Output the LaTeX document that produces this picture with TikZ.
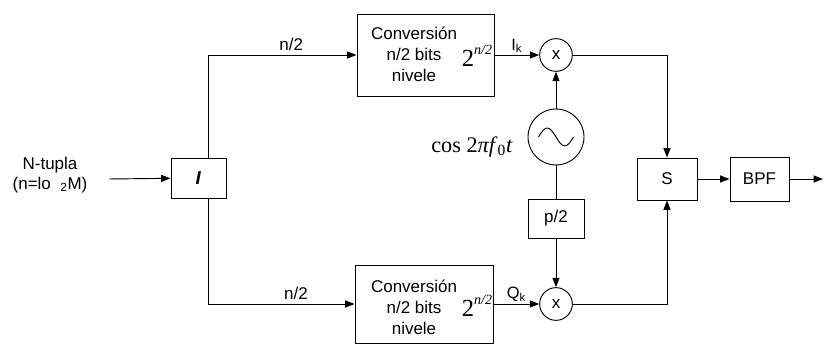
\documentclass[tikz,border=0pt]{standalone}
\usepackage{fontspec}
\setmainfont{Liberation Sans}
\newfontfamily\tmsfont{Liberation Serif}
\usetikzlibrary{positioning,arrows.meta}

\newcommand{\twopow}{2\raisebox{1.05ex}{\fontsize{12}{13}\selectfont\itshape n/2}}

\tikzset{
  blk/.style={draw, line width=0.8pt, inner sep=0pt, font=\fontsize{14.5}{18}\selectfont},
  mix/.style={circle, draw, line width=0.8pt, minimum size=0.98cm, inner sep=0pt, font=\fontsize{14.5}{18}\selectfont},
  lbl/.style={font=\fontsize{14.5}{18}\selectfont, align=center},
  sub/.style={font=\fontsize{14}{16}\selectfont, inner sep=1.5pt},
  pow/.style={font={\tmsfont\fontsize{21}{24}\selectfont}, inner sep=0pt},
  wire/.style={line width=0.8pt, -{Triangle[length=8pt,width=6pt]}},
  bare/.style={line width=0.8pt},
}

\begin{document}
\begin{tikzpicture}[x=0.03cm,y=-0.03cm]
\useasboundingbox (0,0) rectangle (830,344);

% input and splitter
\node[lbl, font=\fontsize{14.5}{17}\selectfont] (tup) at (50,175) {N-tupla\\(n=lo\ \ \textsubscript{2}M)};
\coordinate (src) at (109,179);
\node[blk, minimum width=1.65cm, minimum height=1.2cm, font=\fontsize{16}{18}\selectfont] (il) at (198.5,178) {\textbf{\textit{I}}};

% level conversion, I branch
\node[blk, minimum width=4.11cm, minimum height=2.46cm] (conv1) at (425.5,55) {};
\node[lbl] (txt1) at (414,54) {Conversión\\n/2 bits\\nivele};
\node[pow] (pw1) at (477,56) {\twopow};

% level conversion, Q branch
\node[blk, minimum width=4.14cm, minimum height=2.34cm] (conv2) at (424,304) {};
\node[lbl] (txt2) at (414,307) {Conversión\\n/2 bits\\nivele};
\node[pow] (pw2) at (477,306) {\twopow};

% carrier
\node[mix] (m1) at (556,55) {x};
\node[mix] (m2) at (556,304) {x};
\node[circle, draw, line width=0.8pt, minimum size=1.68cm, inner sep=0pt] (osc) at (556,137) {};
\draw[bare] ([xshift=-0.525cm]osc.center) sin ++(8.75,-9) cos ++(8.75,9) sin ++(8.75,9) cos ++(8.75,-9);
\node[font={\tmsfont\fontsize{19}{22}\selectfont}] (carrier) at (472,147) {cos 2\textit{πf}\textsubscript{0}\textit{t}};
\node[blk, minimum width=1.68cm, minimum height=1.17cm] (ph) at (556,218.5) {p/2};

% sum and filter
\node[blk, minimum width=1.8cm, minimum height=1.26cm] (sum) at (667,179) {S};
\node[blk, minimum width=1.77cm, minimum height=1.32cm] (bpf) at (759.5,179) {BPF};
\coordinate (dst) at (823,179);

\draw[wire] (src) -- (il);
\draw[wire] ([xshift=0.29cm]il.north) |- node[lbl, pos=.78, above] {n/2} (conv1);
\draw[wire] ([xshift=0.29cm]il.south) |- node[lbl, pos=.8, above] {n/2} (conv2);
\draw[wire] (conv1) -- node[sub, above] {I\textsubscript{k}} (m1);
\draw[wire] (conv2) -- node[sub, above] {Q\textsubscript{k}} (m2);
\draw[wire] (osc) -- (m1);
\draw[bare] (osc) -- (ph);
\draw[wire] (ph) -- (m2);
\draw[wire] (m1) -| (sum);
\draw[wire] (m2) -| (sum);
\draw[wire] (sum) -- (bpf);
\draw[wire] (bpf) -- (dst);

\end{tikzpicture}
\end{document}
